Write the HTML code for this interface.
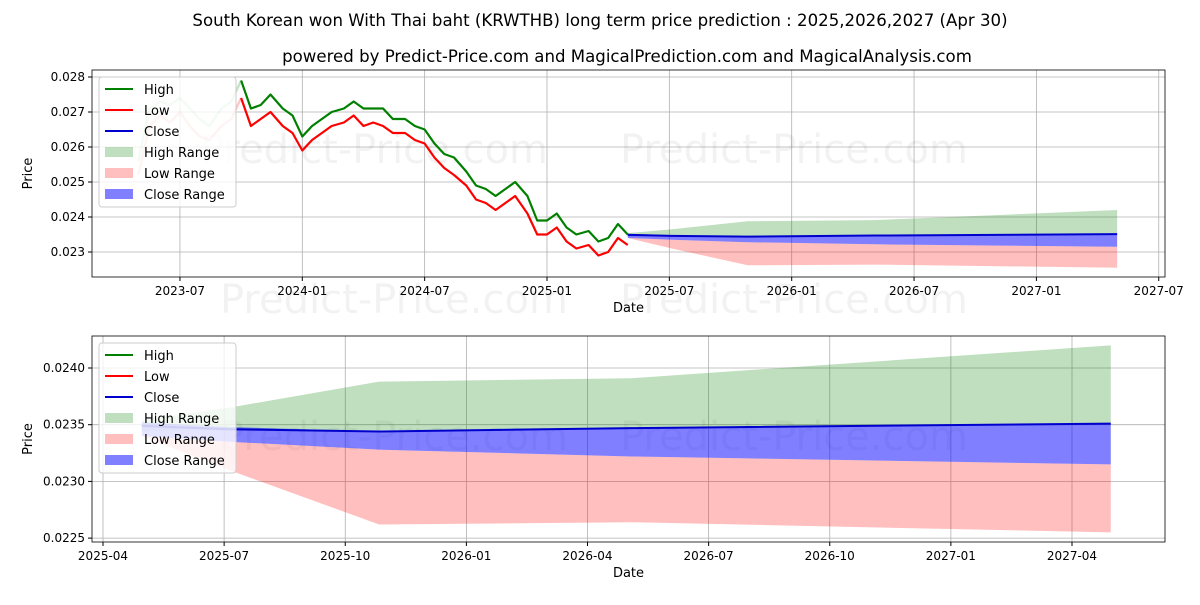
<!DOCTYPE html>
<html><head><meta charset="utf-8">
<style>
body{margin:0;background:#fff;font-family:"Liberation Sans","DejaVu Sans",sans-serif;}
svg text{font-family:"DejaVu Sans","Liberation Sans",sans-serif;}
</style></head>
<body>
<svg id="chart" width="1200" height="600" xmlns="http://www.w3.org/2000/svg">
<rect width="1200" height="600" fill="#fff"/>
<text x="600" y="26" font-size="16.6" text-anchor="middle">South Korean won With Thai baht (KRWTHB) long term price prediction : 2025,2026,2027 (Apr 30)</text>
<text x="627" y="62" font-size="16.6" text-anchor="middle">powered by Predict-Price.com and MagicalPrediction.com and MagicalAnalysis.com</text>
<g id="top"></g>
<g id="bot"></g>
</svg>
<script>
// historical data (fractional years)
const histT=[2023.33,2023.375,2023.42,2023.46,2023.5,2023.54,2023.58,2023.62,2023.67,2023.71,2023.75,2023.79,2023.83,2023.87,2023.92,2023.96,2024.0,2024.04,2024.08,2024.12,2024.17,2024.21,2024.25,2024.29,2024.33,2024.37,2024.42,2024.46,2024.5,2024.54,2024.58,2024.62,2024.67,2024.71,2024.75,2024.79,2024.83,2024.87,2024.92,2024.96,2025.0,2025.04,2025.08,2025.12,2025.17,2025.21,2025.25,2025.29,2025.33];
const histHigh=[0.0256,0.0271,0.0273,0.0272,0.0274,0.0271,0.0268,0.0266,0.0271,0.0273,0.0279,0.0271,0.0272,0.0275,0.0271,0.0269,0.0263,0.0266,0.0268,0.0270,0.0271,0.0273,0.0271,0.0271,0.0271,0.0268,0.0268,0.0266,0.0265,0.0261,0.0258,0.0257,0.0253,0.0249,0.0248,0.0246,0.0248,0.0250,0.0246,0.0239,0.0239,0.0241,0.0237,0.0235,0.0236,0.0233,0.0234,0.0238,0.0235];
const histLow=[0.0252,0.0266,0.0269,0.0267,0.0270,0.0266,0.0263,0.0262,0.0266,0.0268,0.0274,0.0266,0.0268,0.0270,0.0266,0.0264,0.0259,0.0262,0.0264,0.0266,0.0267,0.0269,0.0266,0.0267,0.0266,0.0264,0.0264,0.0262,0.0261,0.0257,0.0254,0.0252,0.0249,0.0245,0.0244,0.0242,0.0244,0.0246,0.0241,0.0235,0.0235,0.0237,0.0233,0.0231,0.0232,0.0229,0.0230,0.0234,0.0232];
const fadeEnd=2023.72;
// forecast data
const fcT=[2025.33,2025.51,2025.82,2026.34,2027.33];
const highMax=[0.02354,0.02365,0.02388,0.02391,0.02420];
const highMin=[0.02345,0.02345,0.02345,0.02347,0.02350];
const lowMax=[0.02340,0.02335,0.02328,0.02322,0.02315];
const lowMin=[0.02340,0.02310,0.02262,0.02264,0.02255];
const closeMax=[0.02352,0.02348,0.02344,0.02347,0.02351];
const closeMin=[0.02340,0.02335,0.02328,0.02322,0.02315];
const closeV=[0.02349,0.02346,0.02344,0.02347,0.02351];
const topXTicks=[[2023.5,"2023-07"],[2024.0,"2024-01"],[2024.5,"2024-07"],[2025.0,"2025-01"],[2025.5,"2025-07"],[2026.0,"2026-01"],[2026.5,"2026-07"],[2027.0,"2027-01"],[2027.5,"2027-07"]];
const topYTicks=[0.023,0.024,0.025,0.026,0.027,0.028];
const botXTicks=[[2025.25,"2025-04"],[2025.5,"2025-07"],[2025.75,"2025-10"],[2026.0,"2026-01"],[2026.25,"2026-04"],[2026.5,"2026-07"],[2026.75,"2026-10"],[2027.0,"2027-01"],[2027.25,"2027-04"]];
const botYTicks=[0.0225,0.0230,0.0235,0.0240];

const NS="http://www.w3.org/2000/svg";
function mk(p,tag,at){const e=document.createElementNS(NS,tag);for(const k in at)e.setAttribute(k,at[k]);p.appendChild(e);return e;}
function panel(g,box,xs,ys,xt,yt,yfmt){
  const [L,T,R,B]=box;
  mk(g,'rect',{x:L,y:T,width:R-L,height:B-T,fill:'#fff'});
  const grid=mk(g,'g',{});
  
  
  xt.forEach(([v,l])=>{const x=xs(v);mk(grid,'line',{x1:x,x2:x,y1:T,y2:B,stroke:'#b0b0b0','stroke-width':0.8});
    mk(g,'line',{x1:x,x2:x,y1:B,y2:B+4,stroke:'#000'});
    const t=mk(g,'text',{x:x,y:B+18,'font-size':12,'text-anchor':'middle'});t.textContent=l;
    
    });
  yt.forEach(v=>{const y=ys(v);mk(grid,'line',{x1:L,x2:R,y1:y,y2:y,stroke:'#b0b0b0','stroke-width':0.8});
    mk(g,'line',{x1:L-4,x2:L,y1:y,y2:y,stroke:'#000'});
    const t=mk(g,'text',{x:L-7,y:y+4,'font-size':12,'text-anchor':'end'});t.textContent=yfmt(v);
    
    });
  const xl=mk(g,'text',{x:(L+R)/2,y:B+35,'font-size':13,'text-anchor':'middle'});xl.textContent='Date';
  
  
  const yl=mk(g,'text',{x:0,y:0,'font-size':13,'text-anchor':'middle',transform:`translate(${L-60},${(T+B)/2}) rotate(-90)`});yl.textContent='Price';
  
  
}
function wm(g,items){items.forEach(([x,y])=>{const t=mk(g,'text',{x:x,y:y,'font-size':40,fill:'rgba(0,0,0,0.05)'});t.textContent='Predict-Price.com';
  
  });}
function band(g,xs,ys,up,lo,fill,name){
  let d=fcT.map((t,i)=>(i?'L':'M')+xs(t)+','+ys(up[i])).join('')+fcT.slice().reverse().map((t,j)=>'L'+xs(t)+','+ys(lo[fcT.length-1-j])).join('')+'Z';
  const p=mk(g,'path',{d:d,fill:fill});
  
  
}
function line(g,ts,vs,xs,ys,col,name,w){
  const p=mk(g,'polyline',{points:ts.map((t,i)=>xs(t)+','+ys(vs[i])).join(' '),fill:'none',stroke:col,'stroke-width':w||1.5,'stroke-linejoin':'round'});
  
  
}
function legend(g,x,y){
  const lg=mk(g,'g',{});
  
  
  mk(lg,'rect',{x:x,y:y,width:137,height:130,rx:3,fill:'rgba(255,255,255,0.8)',stroke:'#ccc'});
  const it=[['High','line','#008000'],['Low','line','#ff0000'],['Close','line','#0000cc'],['High Range','box','rgba(0,128,0,0.25)'],['Low Range','box','rgba(255,0,0,0.25)'],['Close Range','box','rgba(0,0,255,0.5)']];
  it.forEach(([l,k,c],i)=>{const yy=y+12+i*21;
    if(k=='line')mk(lg,'line',{x1:x+6,x2:x+34,y1:yy,y2:yy,stroke:c,'stroke-width':2});
    else mk(lg,'rect',{x:x+6,y:yy-5,width:28,height:10,fill:c});
    const t=mk(lg,'text',{x:x+45,y:yy+5,'font-size':13});t.textContent=l;
    
    });
}
// top panel
const tg=document.getElementById('top');
const tB=[92,70,1165,277];
const txs=t=>547+(t-2025.0)*244.7, tys=v=>252-(v-0.023)*35000;
panel(tg,tB,txs,tys,topXTicks,topYTicks,v=>v.toFixed(3));
wm(tg,[[200,163],[620,163],[220,313],[620,313]]);
band(tg,txs,tys,highMax,highMin,'rgba(0,128,0,0.25)','high-range-top');
band(tg,txs,tys,lowMax,lowMin,'rgba(255,0,0,0.25)','low-range-top');
band(tg,txs,tys,closeMax,closeMin,'rgba(0,0,255,0.5)','close-range-top');
const fi=histT.findIndex(t=>t>=fadeEnd);
line(tg,histT.slice(0,fi+1),histHigh.slice(0,fi+1),txs,tys,'rgba(0,128,0,0.22)','high-faded',2.5);
line(tg,histT.slice(0,fi+1),histLow.slice(0,fi+1),txs,tys,'rgba(255,0,0,0.22)','low-faded',2.5);
line(tg,histT.slice(fi),histHigh.slice(fi),txs,tys,'#008000','high-line',2.2);
line(tg,histT.slice(fi),histLow.slice(fi),txs,tys,'#ff0000','low-line',2.2);
line(tg,fcT,closeV,txs,tys,'#0000cc','close-line-top',2);
mk(tg,'rect',{x:tB[0],y:tB[1],width:tB[2]-tB[0],height:tB[3]-tB[1],fill:'none',stroke:'#000','stroke-width':0.8});
legend(tg,99,77);
// bottom panel
const bg=document.getElementById('bot');
const bB=[92,336,1165,542];
const bxs=t=>103+(t-2025.25)*484.5, bys=v=>368-(v-0.0240)*113400;
panel(bg,bB,bxs,bys,botXTicks,botYTicks,v=>v.toFixed(4));
wm(bg,[[220,450],[620,450]]);
band(bg,bxs,bys,highMax,highMin,'rgba(0,128,0,0.25)','high-range');
band(bg,bxs,bys,lowMax,lowMin,'rgba(255,0,0,0.25)','low-range');
band(bg,bxs,bys,closeMax,closeMin,'rgba(0,0,255,0.5)','close-range');
line(bg,fcT,closeV,bxs,bys,'#0000cc','close-line',2);
mk(bg,'rect',{x:bB[0],y:bB[1],width:bB[2]-bB[0],height:bB[3]-bB[1],fill:'none',stroke:'#000','stroke-width':0.8});
legend(bg,99,343);
</script>
</body></html>
